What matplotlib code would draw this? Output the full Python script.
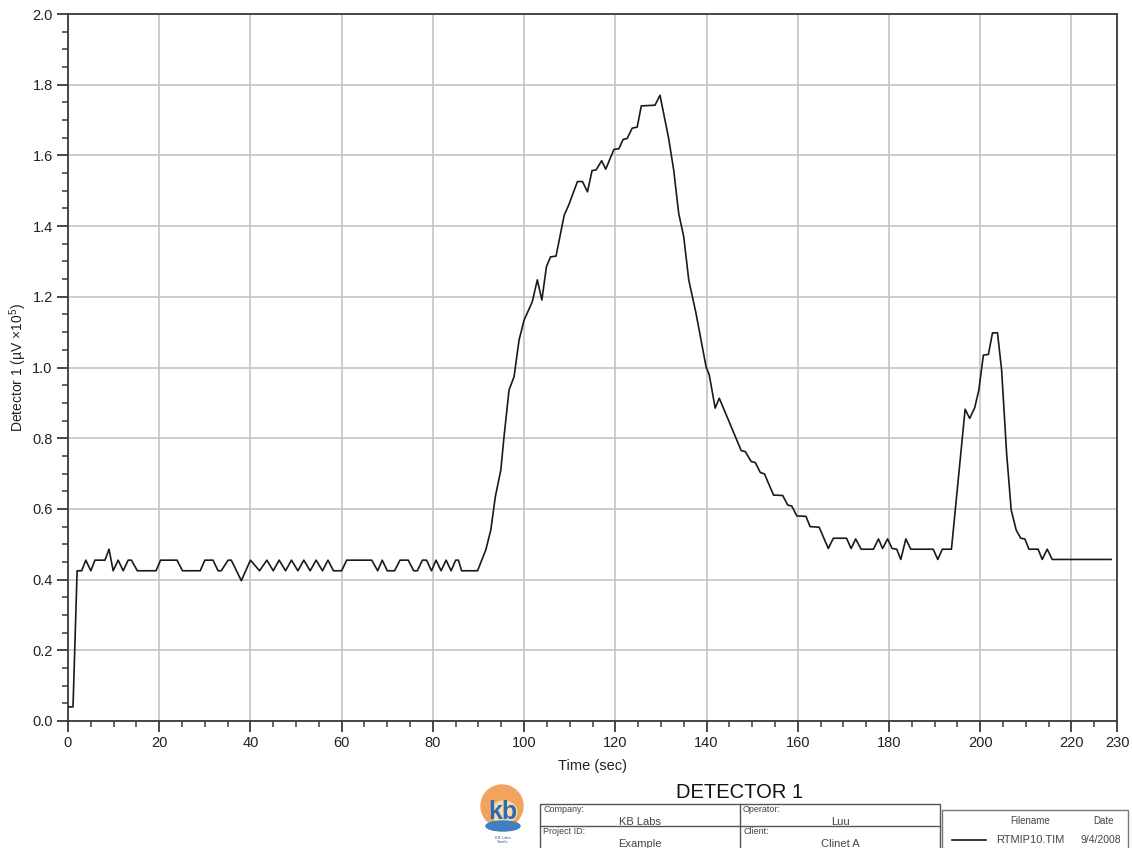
import numpy as np
import matplotlib
matplotlib.use("Agg")
import matplotlib.pyplot as plt
from matplotlib.patches import Rectangle, Ellipse
from matplotlib.ticker import MultipleLocator, FixedLocator

plt.rcParams['font.family'] = ['Liberation Sans', 'DejaVu Sans']
plt.rcParams['mathtext.fontset'] = 'custom'
plt.rcParams['mathtext.rm'] = 'Liberation Sans'
plt.rcParams['mathtext.it'] = 'Liberation Sans:italic'

# detector trace (time in sec, signal in uV x 10^5)
t_sec = [0.0, 1.1, 2.0, 3.0, 3.9, 5.0, 5.9, 8.1, 9.0, 9.9, 11.0, 12.1, 13.2, 13.9,
         15.2, 19.3, 20.3, 23.9, 25.1, 29.0, 30.0, 31.8, 32.9, 33.6, 35.1, 35.8,
         38.0, 40.0, 42.0, 43.6, 45.0, 46.3, 47.7, 49.0, 50.4, 51.7, 53.1, 54.4,
         55.8, 57.0, 58.2, 60.0, 61.1, 66.6, 67.9, 68.9, 70.0, 71.6, 72.8, 74.6,
         75.8, 76.6, 77.7, 78.6, 79.7, 80.7, 81.8, 82.9, 84.0, 85.0, 85.6, 86.3,
         89.8, 91.6, 92.7, 93.7, 94.9, 95.6, 96.7, 97.8, 98.9, 100.0, 101.8,
         102.9, 103.9, 104.9, 105.8, 107.0, 108.8, 109.8, 111.7, 112.8, 113.9,
         114.9, 115.8, 117.0, 117.9, 119.7, 120.8, 121.7, 122.6, 123.7, 124.8,
         125.7, 128.7, 129.8, 131.7, 132.8, 133.9, 135.0, 136.1, 137.7, 139.9,
         140.6, 141.9, 142.8, 147.6, 148.5, 149.8, 150.7, 151.8, 152.7, 154.7,
         156.7, 157.8, 158.7, 159.8, 161.8, 162.7, 164.7, 166.7, 167.8, 170.7,
         171.7, 172.7, 173.9, 176.6, 177.7, 178.6, 179.7, 180.7, 181.7, 182.6,
         183.7, 184.8, 189.7, 190.7, 191.7, 193.7, 196.7, 197.7, 198.8, 199.7,
         200.7, 201.8, 202.7, 203.8, 204.7, 205.8, 206.8, 207.9, 208.9, 209.8,
         210.7, 212.7, 213.6, 214.7, 215.8, 228.7]
det1 = [0.040, 0.040, 0.425, 0.425, 0.455, 0.425, 0.455, 0.455, 0.486, 0.425, 0.455,
        0.425, 0.455, 0.455, 0.425, 0.425, 0.455, 0.455, 0.425, 0.425, 0.455, 0.455,
        0.425, 0.425, 0.455, 0.455, 0.397, 0.455, 0.425, 0.455, 0.425, 0.455, 0.425,
        0.455, 0.425, 0.455, 0.425, 0.455, 0.425, 0.455, 0.425, 0.425, 0.455, 0.455,
        0.425, 0.455, 0.425, 0.425, 0.455, 0.455, 0.425, 0.425, 0.455, 0.455, 0.425,
        0.455, 0.425, 0.455, 0.425, 0.455, 0.455, 0.425, 0.425, 0.484, 0.540, 0.635,
        0.710, 0.804, 0.936, 0.974, 1.078, 1.134, 1.186, 1.248, 1.191, 1.285, 1.313,
        1.315, 1.431, 1.460, 1.526, 1.526, 1.497, 1.557, 1.559, 1.585, 1.561, 1.617,
        1.619, 1.645, 1.648, 1.677, 1.680, 1.740, 1.742, 1.770, 1.648, 1.559, 1.436,
        1.370, 1.248, 1.153, 1.002, 0.979, 0.885, 0.913, 0.765, 0.762, 0.734, 0.731,
        0.703, 0.699, 0.639, 0.638, 0.611, 0.608, 0.580, 0.579, 0.550, 0.548, 0.488,
        0.517, 0.517, 0.488, 0.515, 0.486, 0.486, 0.515, 0.488, 0.515, 0.488, 0.486,
        0.457, 0.515, 0.486, 0.486, 0.457, 0.486, 0.486, 0.882, 0.856, 0.886, 0.936,
        1.035, 1.037, 1.098, 1.098, 0.993, 0.757, 0.597, 0.540, 0.517, 0.515, 0.486,
        0.486, 0.457, 0.486, 0.457, 0.457]

x_ticks = [0, 20, 40, 60, 80, 100, 120, 140, 160, 180, 200, 220, 230]
y_ticks = [0.0, 0.2, 0.4, 0.6, 0.8, 1.0, 1.2, 1.4, 1.6, 1.8, 2.0]

W, H = 1132, 848
fig = plt.figure(figsize=(W / 100, H / 100), dpi=100)
ax = fig.add_axes([68 / W, 1 - 721 / H, (1117 - 68) / W, (721 - 14) / H])

ax.plot(t_sec, det1, color='#1a1a1a', lw=1.2, zorder=3)

ax.set_xlim(0, 230)
ax.set_ylim(0, 2.0)
ax.xaxis.set_major_locator(FixedLocator(x_ticks))
ax.xaxis.set_minor_locator(MultipleLocator(5))
ax.yaxis.set_major_locator(FixedLocator(y_ticks))
ax.yaxis.set_minor_locator(MultipleLocator(0.05))
ax.set_yticklabels([f"{v:.1f}" for v in y_ticks])

ax.grid(True, which='major', color='#c4c4c4', lw=1.2)
for s in ax.spines.values():
    s.set_color('#3a3a3a')
    s.set_linewidth(1.3)
ax.tick_params(which='major', length=8, width=1.3, color='#3a3a3a',
               labelsize=10.5, labelcolor='#222222', pad=3)
ax.tick_params(which='minor', length=4, width=1.1, color='#3a3a3a')

ax.set_xlabel('Time (sec)', fontsize=10.5, color='#222222', labelpad=6)
ax.set_ylabel('Detector 1 (µV ×10$^5$)', fontsize=10, color='#222222')
ax.yaxis.set_label_coords(-0.037, 0.5)

# footer: logo, title and info table (drawn in figure pixels)
info = fig.add_axes([0, 0, 1, 1])
info.set_xlim(0, W)
info.set_ylim(H, 0)
info.axis('off')
info.patch.set_visible(False)

info.add_patch(Ellipse((502, 806), 42, 42, color='#f2a35e'))
info.add_patch(Ellipse((504, 812), 26, 22, color='#f7d9a8'))
info.add_patch(Ellipse((503, 826), 34, 10, color='#3f7fc0'))
info.text(503, 812, 'kb', ha='center', va='center', fontsize=18, color='#2b6cb0',
          fontweight='bold')
info.text(503, 840, 'KB Labs\nStudio', ha='center', va='center', fontsize=3,
          color='#3f5f8f', linespacing=0.9)

info.text(740, 792, 'DETECTOR 1', ha='center', va='center', fontsize=14.5,
          color='#111111')

tc = '#555555'
info.add_patch(Rectangle((540, 804), 400, 50, fill=False, ec=tc, lw=1.0))
info.plot([540, 940], [826, 826], color=tc, lw=1.0)
info.plot([740, 740], [804, 854], color=tc, lw=1.0)
info.text(543, 809, 'Company:', fontsize=6.5, color='#444444', va='center')
info.text(640, 822, 'KB Labs', fontsize=8, color='#444444', ha='center', va='center')
info.text(743, 809, 'Operator:', fontsize=6.5, color='#444444', va='center')
info.text(840, 822, 'Luu', fontsize=8, color='#444444', ha='center', va='center')
info.text(543, 831, 'Project ID:', fontsize=6.5, color='#444444', va='center')
info.text(640, 844, 'Example', fontsize=8, color='#444444', ha='center', va='center')
info.text(743, 831, 'Client:', fontsize=6.5, color='#444444', va='center')
info.text(840, 844, 'Clinet A', fontsize=8, color='#444444', ha='center', va='center')

info.add_patch(Rectangle((942, 810), 186, 50, fill=False, ec='#777777', lw=1.0))
info.text(1030, 821, 'Filename', fontsize=7, color='#444444', ha='center', va='center')
info.text(1103, 821, 'Date', fontsize=7, color='#444444', ha='center', va='center')
info.plot([952, 986], [840, 840], color='#1a1a1a', lw=1.2)
info.text(1030, 840, 'RTMIP10.TIM', fontsize=8, color='#444444', ha='center', va='center')
info.text(1101, 840, '9/4/2008', fontsize=7.5, color='#444444', ha='center', va='center')

fig.savefig('out.png', dpi=100, facecolor='white')
